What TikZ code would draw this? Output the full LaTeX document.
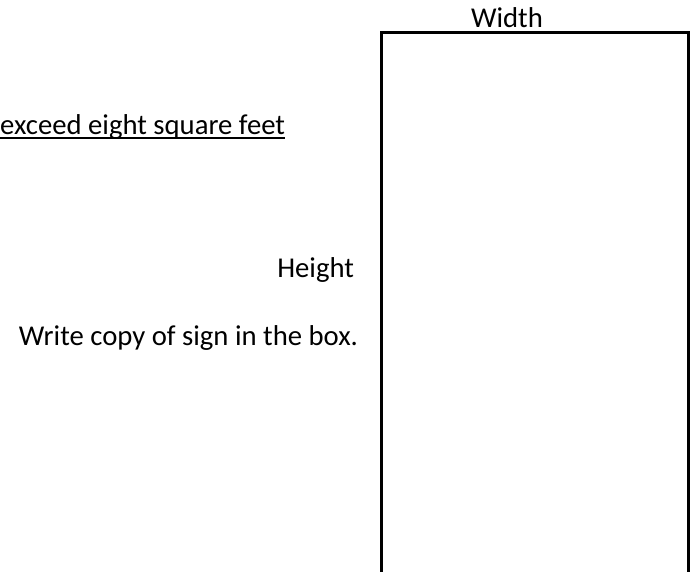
\documentclass[tikz,border=0pt]{standalone}
\usepackage{fontspec}
\setmainfont{Carlito}
\usetikzlibrary{positioning}

\begin{document}
\begin{tikzpicture}[x=1pt, y=-1pt,
          lbl/.style={inner sep=0pt, outer sep=0pt, font=\fontsize{28.7}{34}\selectfont},
          signbox/.style={draw, line width=3pt, outer sep=0pt, inner sep=0pt,
                          minimum width=307pt, minimum height=580pt}
        ]
        \useasboundingbox (0,0) rectangle (692,571);
        \clip (0,0) rectangle (692,571);

        % Sign outline (runs off the bottom of the page)
        \node[signbox, anchor=north west] (sign) at (381,32) {};

        \node[lbl, anchor=base]      (width)  at (507,27)  {Width};
        \node[lbl, anchor=base east] (limit)  at (285,134) {exceed eight square feet};
        \draw[line width=2.5pt] ([yshift=-4pt]limit.base west) -- ([yshift=-4pt]limit.base east);

        \node[lbl, anchor=base east] (height) at (354,277) {Height};
        \node[lbl, anchor=base east] (copy)   at (358,345) {Write copy of sign in the box.};
      \end{tikzpicture}
\end{document}
